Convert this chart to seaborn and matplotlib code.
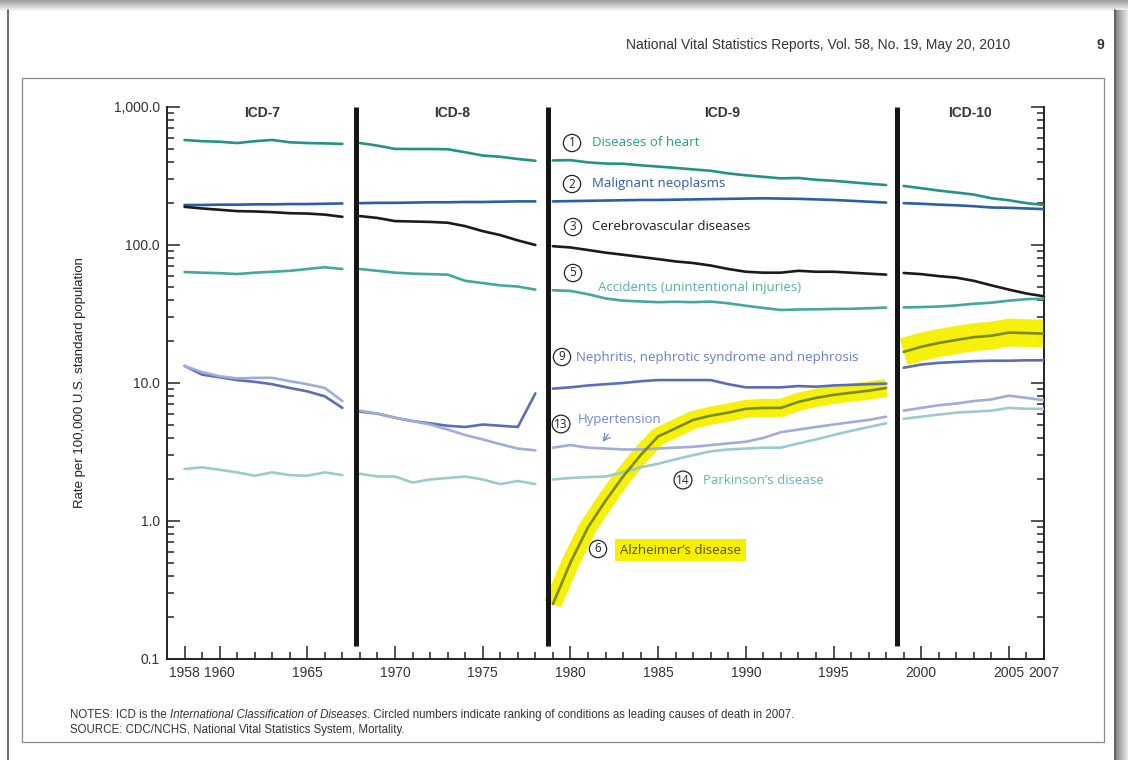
import numpy as np
import pandas as pd
import seaborn as sns
import matplotlib
matplotlib.use("Agg")
import matplotlib.pyplot as plt
from matplotlib.patches import Rectangle
from matplotlib.ticker import FixedLocator, FixedFormatter, NullFormatter

# ---------------- data (age-adjusted death rates) ----------------
revisions = ["ICD-7", "ICD-8", "ICD-9", "ICD-10"]
years_icd7 = list(range(1958, 1968))
years_icd8 = list(range(1968, 1979))
years_icd9 = list(range(1979, 1999))
years_icd10 = list(range(1999, 2008))
icd_breaks = [1967.8, 1978.75, 1998.6]

heart = {
    "ICD-7": [577, 565, 560, 548, 565, 577, 555, 548, 545, 540],
    "ICD-8": [548, 525, 497, 496, 496, 494, 470, 445, 436, 420, 408],
    "ICD-9": [410, 412, 397, 389, 388, 378, 370, 362, 353, 345, 330, 320, 312, 304, 306, 297, 292, 285, 278, 272],
    "ICD-10": [268, 258, 248, 240, 232, 218, 211, 201, 195],
}
cancer = {
    "ICD-7": [195, 195, 196, 196, 197, 197, 198, 198, 199, 200],
    "ICD-8": [201, 202, 202, 203, 204, 204, 205, 205, 206, 207, 207],
    "ICD-9": [207, 208, 209, 210, 211, 212, 212, 213, 214, 215, 216, 217, 218, 217, 216, 214, 212, 209, 206, 203],
    "ICD-10": [201, 199, 196, 194, 191, 187, 186, 184, 182],
}
stroke = {
    "ICD-7": [189, 184, 180, 176, 175, 173, 170, 169, 166, 160],
    "ICD-8": [162, 157, 149, 148, 147, 145, 137, 126, 118, 108, 100],
    "ICD-9": [98, 96, 92, 88, 85, 82, 79, 76, 74, 71, 67, 64, 63, 63, 65, 64, 64, 63, 62, 61],
    "ICD-10": [62.7, 61.5, 59.5, 58, 55, 51, 47.5, 44.5, 42.5],
}
accidents = {
    "ICD-7": [63.7, 63.0, 62.5, 61.6, 63.0, 64.0, 65.0, 67.0, 69.0, 67.0],
    "ICD-8": [67, 65, 63, 62, 61.5, 61, 55, 53, 51, 50, 47.5],
    "ICD-9": [47.0, 46.5, 44.0, 41.0, 39.5, 39.0, 38.5, 38.8, 38.5, 38.9, 37.8, 36.3, 35.0, 33.8, 34.1, 34.2, 34.4, 34.5, 34.8, 35.2],
    "ICD-10": [35.3, 35.5, 35.8, 36.5, 37.5, 38.2, 39.5, 40.5, 40.8],
}
nephritis = {
    "ICD-7": [13.3, 11.5, 11.0, 10.5, 10.2, 9.8, 9.2, 8.7, 8.0, 6.6],
    "ICD-8": [6.2, 6.0, 5.6, 5.3, 5.1, 4.9, 4.8, 5.0, 4.9, 4.8, 8.4],
    "ICD-9": [9.1, 9.3, 9.6, 9.8, 10.0, 10.3, 10.5, 10.5, 10.5, 10.5, 9.8, 9.3, 9.3, 9.3, 9.5, 9.4, 9.6, 9.7, 9.8, 9.9],
    "ICD-10": [12.9, 13.6, 14.0, 14.2, 14.4, 14.5, 14.5, 14.6, 14.6],
}
hypertension = {
    "ICD-7": [13.3, 12.0, 11.2, 10.8, 10.9, 10.9, 10.3, 9.8, 9.2, 7.4],
    "ICD-8": [6.3, 6.0, 5.6, 5.3, 5.0, 4.6, 4.2, 3.9, 3.6, 3.35, 3.25],
    "ICD-9": [3.4, 3.55, 3.4, 3.35, 3.3, 3.3, 3.35, 3.4, 3.45, 3.55, 3.65, 3.75, 4.0, 4.4, 4.6, 4.8, 5.0, 5.2, 5.4, 5.7],
    "ICD-10": [6.3, 6.6, 6.9, 7.1, 7.4, 7.6, 8.1, 7.8, 7.5],
}
parkinsons = {
    "ICD-7": [2.38, 2.45, 2.35, 2.25, 2.13, 2.25, 2.15, 2.13, 2.25, 2.15],
    "ICD-8": [2.2, 2.1, 2.1, 1.9, 2.0, 2.05, 2.1, 2.0, 1.85, 1.95, 1.85],
    "ICD-9": [2.0, 2.05, 2.08, 2.1, 2.25, 2.45, 2.6, 2.8, 3.0, 3.2, 3.3, 3.35, 3.4, 3.4, 3.65, 3.9, 4.2, 4.5, 4.8, 5.1],
    "ICD-10": [5.5, 5.7, 5.9, 6.1, 6.2, 6.3, 6.6, 6.5, 6.5],
}
alzheimers = {
    "ICD-9": [0.25, 0.5, 0.9, 1.4, 2.1, 3.0, 4.1, 4.7, 5.4, 5.8, 6.1, 6.5, 6.6, 6.6, 7.3, 7.8, 8.2, 8.5, 8.8, 9.2],
    "ICD-10": [16.8, 18.3, 19.5, 20.5, 21.5, 22.0, 23.2, 23.0, 22.8],
}

causes = ["Heart", "Cancer", "Stroke", "Accidents", "Nephritis", "Hypertension", "Parkinsons", "Alzheimers"]
series = [heart, cancer, stroke, accidents, nephritis, hypertension, parkinsons, alzheimers]
line_colors = ["#239484", "#2a5ea6", "#1b1b1b", "#45a89c", "#5b6db9", "#a3abd8", "#9dcbcb", "#7d8a12"]
year_map = {"ICD-7": years_icd7, "ICD-8": years_icd8, "ICD-9": years_icd9, "ICD-10": years_icd10}

y_ticks = [0.1, 1, 10, 100, 1000]
y_tick_labels = ["0.1", "1.0", "10.0", "100.0", "1,000.0"]
x_ticks = [1958, 1960, 1965, 1970, 1975, 1980, 1985, 1990, 1995, 2000, 2005, 2007]

rows = []
for cause, s in zip(causes, series):
    for rev, vals in s.items():
        for yr, v in zip(year_map[rev], vals):
            rows.append({"cause": cause, "revision": rev, "year": yr, "rate": v})
df = pd.DataFrame(rows)

# ---------------- style ----------------
sns.set_theme(style="white")
plt.rcParams["font.family"] = ["Liberation Sans", "DejaVu Sans"]

W, H = 1128, 760
fig = plt.figure(figsize=(W / 100, H / 100), dpi=100)
fig.patch.set_facecolor("white")

# axes placed to match pixel frame: x 167..1044, y 107..659
L, R, T, B = 167, 1044, 107, 659
ax = fig.add_axes([L / W, 1 - B / H, (R - L) / W, (B - T) / H])
ax.set_facecolor("white")


def axfrac(px, py):
    return ((px - L) / (R - L), 1 - (py - T) / (B - T))


# yellow highlighter under Alzheimer's
alz = df[df.cause == "Alzheimers"]
for rev, lw in [("ICD-9", 13), ("ICD-10", 20)]:
    sns.lineplot(data=alz[alz.revision == rev], x="year", y="rate", ax=ax,
                 color="#f6f000", lw=lw, alpha=0.95, solid_capstyle="butt",
                 estimator=None, legend=False, zorder=1)

sns.lineplot(data=df, x="year", y="rate", hue="cause", units="revision",
             estimator=None, palette=dict(zip(causes, line_colors)),
             hue_order=causes, lw=1.9, legend=False, ax=ax, zorder=3)

ax.set_yscale("log")
ax.set_xlim(1957, 2007)
ax.set_ylim(0.1, 1000)

# ICD revision breaks
ax.vlines(icd_breaks, 0.125, 1000, colors="#151515", lw=3.6, zorder=5)
edges = [1957] + icd_breaks + [2007]
for i, rev in enumerate(revisions):
    ax.text((edges[i] + edges[i + 1]) / 2, 0.99, rev, transform=ax.get_xaxis_transform(),
            ha="center", va="center", fontsize=10, fontweight="bold", color="#333333")

# spines & ticks
for sp in ["left", "right", "bottom"]:
    ax.spines[sp].set_color("#222222")
    ax.spines[sp].set_linewidth(1.4)
ax.spines["top"].set_visible(False)

ax.yaxis.set_major_locator(FixedLocator(y_ticks))
ax.yaxis.set_major_formatter(FixedFormatter(y_tick_labels))
minor_y = [m * 10.0 ** e for e in range(-1, 3) for m in range(2, 10)]
ax.yaxis.set_minor_locator(FixedLocator(minor_y))
ax.yaxis.set_minor_formatter(NullFormatter())
ax.xaxis.set_major_locator(FixedLocator(x_ticks))
ax.xaxis.set_major_formatter(FixedFormatter([str(x) for x in x_ticks]))
ax.xaxis.set_minor_locator(FixedLocator(list(range(1958, 2008))))
ax.tick_params(axis="both", which="both", direction="in", color="#222222", width=1.1)
ax.tick_params(axis="y", which="both", left=True, right=True, labelright=False)
ax.tick_params(axis="x", which="both", bottom=True, top=False)
ax.tick_params(axis="both", which="major", length=9.5, labelsize=10, labelcolor="#333333", pad=5)
ax.tick_params(axis="both", which="minor", length=5.2)
ax.set_xlabel("")
ax.set_ylabel("Rate per 100,000 U.S. standard population", fontsize=9.5, color="#222222", labelpad=20)
ax.grid(False)

# ---------------- labels with circled ranks ----------------
lab_font = ["Open Sans", "DejaVu Sans"]
circ = dict(boxstyle="circle,pad=0.18", fc="white", ec="#222222", lw=0.9)


def rank(num, px, py):
    x, y = axfrac(px, py)
    ax.text(x, y, num, transform=ax.transAxes, ha="center", va="center", fontsize=8.5,
            color="#222222", bbox=circ, zorder=7, family=lab_font)


def label(txt, px, py, color, **kw):
    x, y = axfrac(px, py)
    return ax.text(x, y, txt, transform=ax.transAxes, ha="left", va="center", fontsize=9.5,
                   color=color, zorder=7, family=lab_font, **kw)


rank("1", 572, 143); label("Diseases of heart", 592, 143, "#2a9a8a")
rank("2", 572, 184); label("Malignant neoplasms", 592, 184, "#2e5c9e")
rank("3", 573, 227); label("Cerebrovascular diseases", 592, 227, "#1b1b1b")
rank("5", 573, 273); label("Accidents (unintentional injuries)", 598, 287, "#56b0a6")
rank("9", 562, 357); label("Nephritis, nephrotic syndrome and nephrosis", 576, 357, "#6a7ec0")
rank("13", 561, 424); label("Hypertension", 578, 420, "#7486c4")
rank("14", 683, 480); label("Parkinson\u2019s disease", 703, 481, "#6ab1b8")
rank("6", 598, 549)
label("Alzheimer\u2019s disease", 620, 550, "#4f5018",
      bbox=dict(boxstyle="square,pad=0.35", fc="#f6f000", ec="none"))

# small hand-drawn arrow pointing to hypertension
a0 = axfrac(610, 432)
a1 = axfrac(601, 444)
ax.annotate("", xy=a1, xytext=a0, xycoords="axes fraction", textcoords="axes fraction",
            arrowprops=dict(arrowstyle="->", color="#7486c4", lw=0.9), zorder=7)

# ---------------- page decorations ----------------
def px2fig(x, y):
    return x / W, 1 - y / H


# top shadow gradient
for i in range(12):
    g = 0.62 + 0.38 * i / 11
    fig.patches.append(Rectangle((0, 1 - (i + 1) / H), 1, 1 / H, transform=fig.transFigure,
                                 fc=(g, g, g), ec="none", zorder=0))
# right shadow
for i in range(12):
    g = 0.55 + 0.35 * i / 11
    fig.patches.append(Rectangle((1116 / W + i / W, 0), 1 / W, 1 - 10 / H,
                                 transform=fig.transFigure, fc=(g, g, g), ec="none", zorder=0))
fig.add_artist(plt.Line2D([8 / W, 8 / W], [0, 1 - 10 / H], transform=fig.transFigure,
                          color="#555555", lw=1.2))
fig.add_artist(plt.Line2D([1115 / W, 1115 / W], [0, 1 - 10 / H], transform=fig.transFigure,
                          color="#444444", lw=1.2))
# inner box
bx0, by0 = px2fig(22, 742)
bx1, by1 = px2fig(1104, 78)
fig.patches.append(Rectangle((bx0, by0), bx1 - bx0, by1 - by0, transform=fig.transFigure,
                             fc="none", ec="#8a8a8a", lw=0.9, zorder=0))

# header
hx, hy = px2fig(1010, 45)
fig.text(hx, hy, "National Vital Statistics Reports, Vol. 58, No. 19, May 20, 2010",
         ha="right", va="center", fontsize=10, color="#333333")
hx, hy = px2fig(1100, 45)
fig.text(hx, hy, "9", ha="center", va="center", fontsize=10, fontweight="bold", color="#333333")

# notes (italic title inside)
NFS = 8.3
nx, ny = px2fig(70, 718)
t1 = fig.text(nx, ny, "NOTES: ICD is the ", ha="left", va="baseline", fontsize=NFS, color="#333333")
fig.canvas.draw()
r = fig.canvas.get_renderer()
bb1 = t1.get_window_extent(r)
t2 = fig.text(bb1.x1 / W, ny, "International Classification of Diseases", ha="left", va="baseline",
              fontsize=NFS, style="italic", color="#333333")
fig.canvas.draw()
bb2 = t2.get_window_extent(r)
fig.text(bb2.x1 / W, ny, ". Circled numbers indicate ranking of conditions as leading causes of death in 2007.",
         ha="left", va="baseline", fontsize=NFS, color="#333333")
sx, sy = px2fig(70, 733)
fig.text(sx, sy, "SOURCE: CDC/NCHS, National Vital Statistics System, Mortality.",
         ha="left", va="baseline", fontsize=NFS, color="#333333")

fig.savefig("out.png", dpi=100, facecolor="white")
